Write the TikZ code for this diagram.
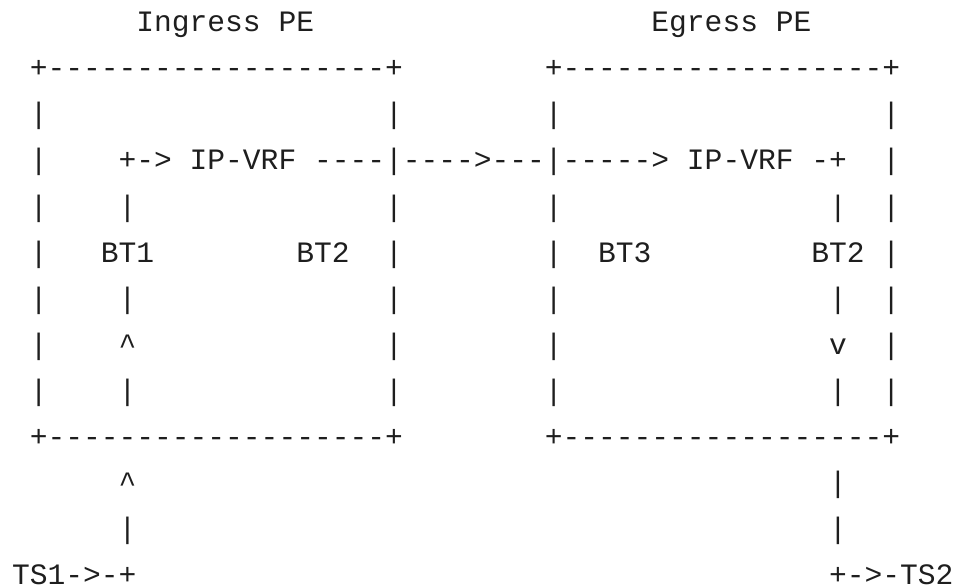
\documentclass[tikz,border=0pt]{standalone}
\usepackage{fontspec}
\setmonofont{Liberation Mono}
\definecolor{ink}{HTML}{1E1E1E}
\tikzset{
  ch/.style={anchor=base west, inner sep=0pt, outer sep=0pt,
    font=\ttfamily\fontsize{22.2}{26}\selectfont, text=ink}
}
\newcommand\gtxt[4]{\node[ch] (#1) at ({12.1+17.76*#2},{31.7+46.1*#3}) {#4};}
\begin{document}
\begin{tikzpicture}[x=0.75pt,y=-0.75pt]
\useasboundingbox (0,0) rectangle (954,588);
% row 0: titles
\gtxt{tIn}{7}{0}{Ingress}
\gtxt{tInPE}{15}{0}{PE}
\gtxt{tEg}{36}{0}{Egress}
\gtxt{tEgPE}{43}{0}{PE}
% row 1: box tops
\gtxt{topA}{1}{1}{+-------------------+}
\gtxt{topB}{30}{1}{+------------------+}
% row 2
\gtxt{r2a}{1}{2}{|}
\gtxt{r2b}{21}{2}{|}
\gtxt{r2c}{30}{2}{|}
\gtxt{r2d}{49}{2}{|}
% row 3
\gtxt{r3a}{1}{3}{|}
\gtxt{r3b}{6}{3}{+->}
\gtxt{vrfA}{10}{3}{IP-VRF}
\gtxt{r3c}{17}{3}{----|---->---|----->}
\gtxt{vrfB}{38}{3}{IP-VRF}
\gtxt{r3d}{45}{3}{-+}
\gtxt{r3e}{49}{3}{|}
% row 4
\gtxt{r4a}{1}{4}{|}
\gtxt{r4b}{6}{4}{|}
\gtxt{r4c}{21}{4}{|}
\gtxt{r4d}{30}{4}{|}
\gtxt{r4e}{46}{4}{|}
\gtxt{r4f}{49}{4}{|}
% row 5
\gtxt{r5a}{1}{5}{|}
\gtxt{btA}{5}{5}{BT1}
\gtxt{btB}{16}{5}{BT2}
\gtxt{r5b}{21}{5}{|}
\gtxt{r5c}{30}{5}{|}
\gtxt{btC}{33}{5}{BT3}
\gtxt{btD}{45}{5}{BT2}
\gtxt{r5d}{49}{5}{|}
% row 6
\gtxt{r6a}{1}{6}{|}
\gtxt{r6b}{6}{6}{|}
\gtxt{r6c}{21}{6}{|}
\gtxt{r6d}{30}{6}{|}
\gtxt{r6e}{46}{6}{|}
\gtxt{r6f}{49}{6}{|}
% row 7
\gtxt{r7a}{1}{7}{|}
\gtxt{r7b}{6}{7}{\textasciicircum}
\gtxt{r7c}{21}{7}{|}
\gtxt{r7d}{30}{7}{|}
\gtxt{r7e}{46}{7}{v}
\gtxt{r7f}{49}{7}{|}
% row 8
\gtxt{r8a}{1}{8}{|}
\gtxt{r8b}{6}{8}{|}
\gtxt{r8c}{21}{8}{|}
\gtxt{r8d}{30}{8}{|}
\gtxt{r8e}{46}{8}{|}
\gtxt{r8f}{49}{8}{|}
% row 9: box bottoms
\gtxt{botA}{1}{9}{+-------------------+}
\gtxt{botB}{30}{9}{+------------------+}
% row 10
\gtxt{r10a}{6}{10}{\textasciicircum}
\gtxt{r10b}{46}{10}{|}
% row 11
\gtxt{r11a}{6}{11}{|}
\gtxt{r11b}{46}{11}{|}
% row 12
\gtxt{tsA}{0}{12}{TS1->-+}
\gtxt{tsB}{46}{12}{+->-TS2}
\end{tikzpicture}
\end{document}
